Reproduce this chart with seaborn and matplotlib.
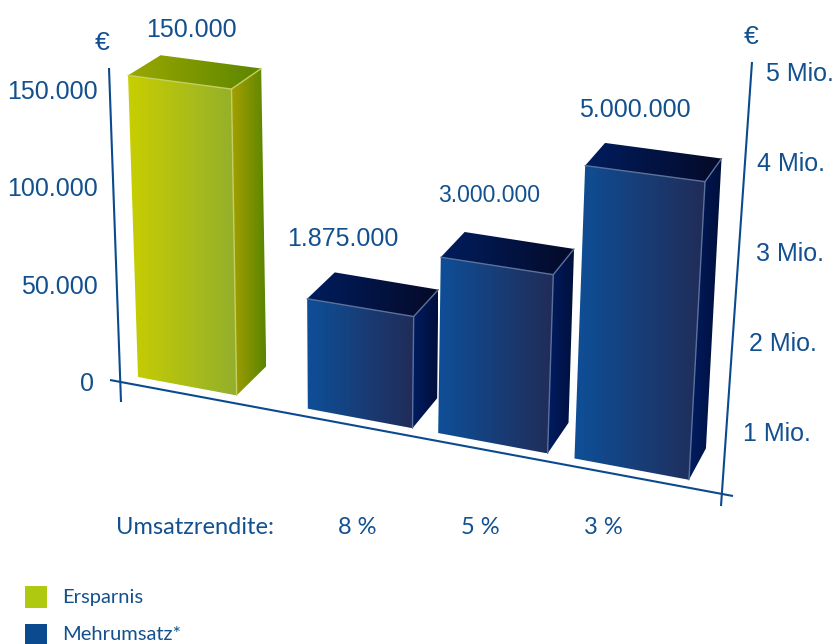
import numpy as np
import pandas as pd
import matplotlib
matplotlib.use("Agg")
import matplotlib.pyplot as plt
from matplotlib.colors import LinearSegmentedColormap
from matplotlib.patches import Polygon, Rectangle
import seaborn as sns

# Chart content
series = ["Ersparnis", "Mehrumsatz*", "Mehrumsatz*", "Mehrumsatz*"]
values = [150000, 1875000, 3000000, 5000000]
value_labels = ["150.000", "1.875.000", "3.000.000", "5.000.000"]
margins = ["8 %", "5 %", "3 %"]
left_ticks = [0, 50000, 100000, 150000]
left_tick_labels = ["0", "50.000", "100.000", "150.000"]
right_ticks = [1, 2, 3, 4, 5]
right_tick_labels = ["1 Mio.", "2 Mio.", "3 Mio.", "4 Mio.", "5 Mio."]

# Bar slots along the floor line, in bar widths
slots = [0.5, 2.2, 3.44, 4.68]

BLUE = "#0b4a8e"
TEXT = "#12508f"
NUM_FONT = ["Liberation Sans", "DejaVu Sans"]
LABEL_FONT = ["Lato", "DejaVu Sans"]

# Drawing height per euro for each of the two value scales
scale = {"Ersparnis": 304 / 150000, "Mehrumsatz*": 59.1 / 1e6}


def project(u, h):
    """Front plane of the scene: slot position and bar height to canvas pixels."""
    base_x = (94.65 * u + 138) / (1 - 0.017 * u)
    base_y = 377 + 0.1866 * (base_x - 138)
    return base_x + (base_x - 345) * 0.000158 * h, base_y - h


def recede(p, k=0.0278, vanish=(1300, -650)):
    """Move a front-plane point back along the depth direction."""
    return p[0] + k * (vanish[0] - p[0]), p[1] + k * (vanish[1] - p[1])


sns.set_style("white")
fig = plt.figure(figsize=(8.37, 6.44), dpi=100)

# Seaborn lays out the bars on a hidden axes; their geometry feeds the scene
frame = pd.DataFrame({
    "slot": slots,
    "series": series,
    "drawn": [v * scale[s] for v, s in zip(values, series)],
})
layout_ax = fig.add_axes([0, 0, 1, 1])
sns.barplot(data=frame, x="slot", y="drawn", hue="series", native_scale=True,
            dodge=False, width=1 / np.diff(slots).min(), legend=False, ax=layout_ax)
bars = sorted([p for p in layout_ax.patches if p.get_height() > 0], key=lambda p: p.get_x())
layout_ax.set_visible(False)

ax = fig.add_axes([0, 0, 1, 1])
ax.set_axis_off()

ramps = {
    "Ersparnis": dict(
        front=("#c8ce00", "#93af2c"), side=("#a6a000", "#5a8500"),
        top=("#9aa800", "#5c8500"), edge="#c4cf62"),
    "Mehrumsatz*": dict(
        front=("#0e4f98", "#212c58"), side=("#001c62", "#000f3a"),
        top=("#001d5e", "#050a28"), edge="#5a7199"),
}


def shade(corners, colors, z):
    """Fill a polygon with a left-to-right colour ramp."""
    pts = np.array(corners)
    cmap = LinearSegmentedColormap.from_list("ramp", colors)
    img = ax.imshow(np.linspace(0, 1, 256)[None, :], cmap=cmap, aspect="auto",
                    interpolation="bilinear", zorder=z,
                    extent=(pts[:, 0].min(), pts[:, 0].max(), pts[:, 1].max(), pts[:, 1].min()))
    clip = Polygon(pts, closed=True, transform=ax.transData, fc="none", ec="none")
    ax.add_patch(clip)
    img.set_clip_path(clip)


# Label offsets from the middle of each bar's back edge, and their sizes
label_shift = [(-19, -32), (-43.5, -42), (-30, -45), (-28, -41)]
label_size = [18, 18, 16.5, 18]

for bar, name, text, shift, size in zip(bars, series, value_labels, label_shift, label_size):
    u0, u1, h = bar.get_x(), bar.get_x() + bar.get_width(), bar.get_height()
    fbl, fbr = project(u0, 0), project(u1, 0)
    ftl, ftr = project(u0, h), project(u1, h)
    # Taller faces foreshorten a little: their top edge runs flatter
    tilt = 0.00015 * h * (ftr[0] - ftl[0]) / 2
    ftl, ftr = (ftl[0], ftl[1] + tilt), (ftr[0], ftr[1] - tilt)
    btl, btr, bbr = recede(ftl), recede(ftr), recede(fbr)
    style = ramps[name]
    shade([fbl, fbr, ftr, ftl], style["front"], 3)
    shade([fbr, bbr, btr, ftr], style["side"], 3)
    shade([ftl, ftr, btr, btl], style["top"], 3)
    # Pale highlights along the front corner and the top edges
    for a, b in [(ftl, ftr), (ftr, fbr), (ftr, btr)]:
        ax.plot([a[0], b[0]], [a[1], b[1]], color=style["edge"], lw=1.0, zorder=4,
                solid_capstyle="round")
    mid = ((btl[0] + btr[0]) / 2, (btl[1] + btr[1]) / 2)
    ax.text(mid[0] + shift[0], mid[1] + shift[1], text, ha="center", va="center",
            color=TEXT, fontsize=size, family=NUM_FONT)

# Axis lines
for xs, ys in [((109, 121), (68, 402)), ((110, 733), (380, 496)), ((752, 721), (62, 506))]:
    ax.plot(xs, ys, color=BLUE, lw=1.5, zorder=2, solid_capstyle="butt")

# Left scale in euros
for v, t in zip(left_ticks, left_tick_labels):
    ax.text(98 if v else 94, 384 - v * 97.5 / 50000, t, ha="right", va="center",
            color=TEXT, fontsize=18, family=NUM_FONT)

# Right scale in millions, stepping along the slanted axis
right_nudge = [1, 1, 1, -4, -1]
for v, t, nudge in zip(right_ticks, right_tick_labels, right_nudge):
    y = 522 - 90 * v
    x = 752 - (y - 62) * 31 / 444 + 16 + nudge
    ax.text(x, y + 2, t, ha="left", va="center", color=TEXT, fontsize=18, family=NUM_FONT)

ax.text(102, 43, "€", ha="center", va="center", color=TEXT, fontsize=19, family=NUM_FONT)
ax.text(751, 37, "€", ha="center", va="center", color=TEXT, fontsize=19, family=NUM_FONT)

# Return on sales row
ax.text(116, 527, "Umsatzrendite:", ha="left", va="center", color=TEXT, fontsize=17,
        family=LABEL_FONT)
for i, t in enumerate(margins):
    ax.text(357 + 123 * i, 527, t, ha="center", va="center", color=TEXT,
            fontsize=17, family=LABEL_FONT)

# Legend
for y, name, color in [(586, "Ersparnis", "#aec90f"), (624, "Mehrumsatz*", "#0b4a8e")]:
    ax.add_patch(Rectangle((25, y), 22, 22, fc=color, ec="none", zorder=3))
    ax.text(62, y + 11, name, ha="left", va="center", color=TEXT, fontsize=14.5,
            family=LABEL_FONT)

ax.set_xlim(0, 837)
ax.set_ylim(644, 0)
fig.savefig("out.png", dpi=100, facecolor="white")
